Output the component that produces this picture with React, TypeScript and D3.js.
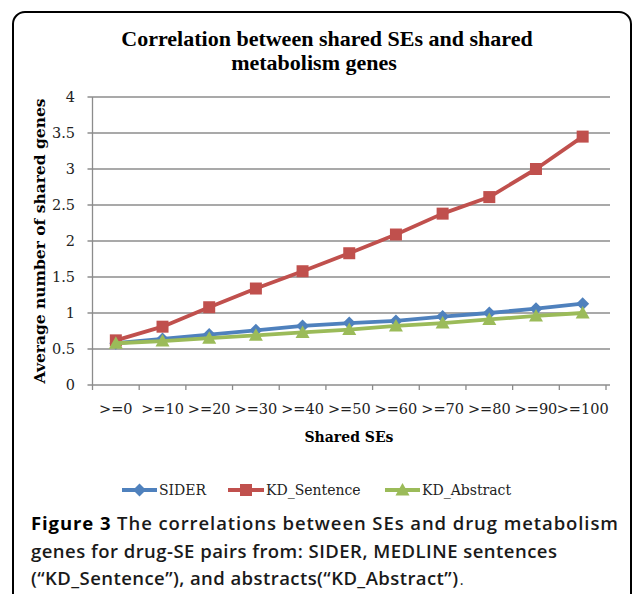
import * as d3 from 'd3'

const categories = ['>=0', '>=10', '>=20', '>=30', '>=40', '>=50', '>=60', '>=70', '>=80', '>=90', '>=100']
const sider = [0.58, 0.64, 0.7, 0.76, 0.82, 0.86, 0.89, 0.95, 1.0, 1.06, 1.13]
const kdSentence = [0.62, 0.81, 1.08, 1.34, 1.58, 1.83, 2.09, 2.38, 2.61, 3.0, 3.45]
const kdAbstract = [0.58, 0.61, 0.65, 0.69, 0.73, 0.77, 0.82, 0.86, 0.91, 0.96, 1.0]
const yTicks = [0, 0.5, 1, 1.5, 2, 2.5, 3, 3.5, 4]

const series = [
  { name: 'SIDER', values: sider, color: '#4F81BD', marker: 'diamond' },
  { name: 'KD_Sentence', values: kdSentence, color: '#C0504D', marker: 'square' },
  { name: 'KD_Abstract', values: kdAbstract, color: '#9BBB59', marker: 'triangle' },
]

const W = 635
const H = 594
const left = 92.5
const right = 606
const top = 97
const bottom = 385

const x = d3.scaleBand<string>().domain(categories).range([left, right])
const y = d3.scaleLinear().domain([0, 4]).range([bottom, top])

const titleFont = '"Liberation Serif", "Times New Roman", serif'
const axisFont = '"DejaVu Serif", serif'
const gridColor = '#8c8c8c'

function Marker({ type, cx, cy, color }: { type: string; cx: number; cy: number; color: string }) {
  if (type === 'square') {
    return <rect x={cx - 6} y={cy - 6} width={12} height={12} fill={color} />
  }
  if (type === 'diamond') {
    return <path d={`M${cx},${cy - 6.5}L${cx + 6.5},${cy}L${cx},${cy + 6.5}L${cx - 6.5},${cy}Z`} fill={color} />
  }
  return <path d={`M${cx},${cy - 7}L${cx + 7},${cy + 5.5}L${cx - 7},${cy + 5.5}Z`} fill={color} />
}

export default function App() {
  const line = d3.line<number>()
    .x((_, i) => x(categories[i])! + x.bandwidth() / 2)
    .y(d => y(d))

  const boundaries = [...categories.map(c => x(c)!), right]
  const legendItems = [
    { lx: 122, tx: 159 },
    { lx: 228, tx: 266 },
    { lx: 385, tx: 422 },
  ]

  return (
    <svg width={W} height={H} style={{ position: 'absolute', left: 0, top: 0, background: '#fff' }}>
      <rect x={13} y={12} width={618} height={620} rx={12} fill="#fff" stroke="#000" strokeWidth={2} />

      {/* title */}
      <text x={327} y={45.5} textAnchor="middle" fontFamily={titleFont} fontWeight="bold" fontSize={22}>
        Correlation between shared SEs and shared
      </text>
      <text x={314} y={70} textAnchor="middle" fontFamily={titleFont} fontWeight="bold" fontSize={22}>
        metabolism genes
      </text>

      {/* grid */}
      {yTicks.map(t => (
        <g key={t}>
          <line x1={left - 5} x2={right + 4} y1={y(t)} y2={y(t)} stroke={gridColor} strokeWidth={1.3} />
          <text x={75} y={y(t) + 5} textAnchor="end" fontFamily={axisFont} fontSize={14.5} fill="#222">
            {t}
          </text>
        </g>
      ))}
      <line x1={left} x2={left} y1={top} y2={bottom} stroke={gridColor} strokeWidth={1.3} />
      {boundaries.map((b, i) => (
        <line key={i} x1={b} x2={b} y1={bottom} y2={bottom + 5} stroke={gridColor} strokeWidth={1.3} />
      ))}
      {categories.map(c => (
        <text key={c} x={x(c)! + x.bandwidth() / 2} y={414} textAnchor="middle" fontFamily={axisFont} fontSize={14.5} fill="#222">
          {c}
        </text>
      ))}

      {/* axis titles */}
      <text x={349} y={442} textAnchor="middle" fontFamily={axisFont} fontWeight="bold" fontSize={14}>
        Shared SEs
      </text>
      <text transform={`translate(45,${(105 + 377) / 2}) rotate(-90)`} textAnchor="middle" fontFamily={axisFont} fontWeight="bold" fontSize={15.5}>
        Average number of shared genes
      </text>

      {/* series */}
      {series.map(s => (
        <g key={s.name}>
          <path d={line(s.values)!} fill="none" stroke={s.color} strokeWidth={3.8} strokeLinejoin="round" />
          {s.values.map((v, i) => (
            <Marker key={i} type={s.marker} cx={x(categories[i])! + x.bandwidth() / 2} cy={y(v)} color={s.color} />
          ))}
        </g>
      ))}

      {/* legend */}
      {series.map((s, i) => {
        const { lx, tx } = legendItems[i]
        return (
          <g key={s.name}>
            <line x1={lx} x2={tx - 2} y1={490} y2={490} stroke={s.color} strokeWidth={3.8} />
            <Marker type={s.marker} cx={(lx + tx - 2) / 2} cy={490} color={s.color} />
            <text x={tx} y={495} fontFamily={axisFont} fontSize={14} fill="#222">
              {s.name}
            </text>
          </g>
        )
      })}

      {/* caption */}
      <g fontFamily='"Open Sans", sans-serif' fontSize={18.5} fontWeight={600} fill="#1a1a1a">
        <text x={31} y={530} textLength={587} lengthAdjust="spacing">
          <tspan fontWeight={700} fill="#000">Figure 3</tspan> The correlations between SEs and drug metabolism
        </text>
        <text x={31} y={557.5} textLength={526} lengthAdjust="spacing">
          genes for drug-SE pairs from: SIDER, MEDLINE sentences
        </text>
        <text x={31} y={585} textLength={427} lengthAdjust="spacing">
          (“KD_Sentence”), and abstracts(“KD_Abstract”)
        </text>
        <text x={460} y={585} fontSize={12}>.</text>
      </g>
    </svg>
  )
}
